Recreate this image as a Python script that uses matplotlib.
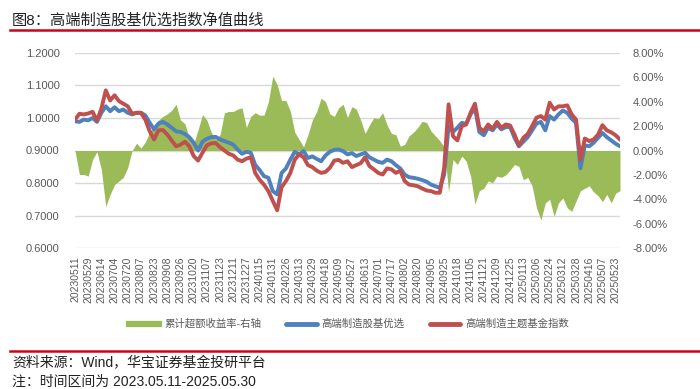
import matplotlib
matplotlib.use('Agg')
import matplotlib.pyplot as plt
from matplotlib.lines import Line2D
from matplotlib.ticker import FuncFormatter

plt.rcParams['font.family'] = ['Liberation Sans', 'Noto Sans CJK SC']

# 每4个交易日取一个点, 2023.05.11-2025.05.30
date_labels = ['20230511', '20230529', '20230614', '20230704', '20230720', '20230807',
               '20230823', '20230908', '20230926', '20231020', '20231107', '20231123',
               '20231211', '20231227', '20240115', '20240131', '20240226', '20240313',
               '20240329', '20240418', '20240509', '20240527', '20240613', '20240701',
               '20240717', '20240802', '20240820', '20240905', '20240925', '20241018',
               '20241105', '20241121', '20241209', '20241225', '20250113', '20250206',
               '20250224', '20250312', '20250328', '20250416', '20250507', '20250523']

# 高端制造股基优选
blue = [0.990, 0.988, 0.995, 0.993, 1.000, 0.988, 1.016, 1.036, 1.021, 1.033,
        1.021, 1.026, 1.016, 1.011, 1.016, 1.016, 1.008, 0.985, 0.965, 0.983,
        0.988, 0.980, 0.970, 0.959, 0.957, 0.951, 0.941, 0.924, 0.900, 0.927,
        0.936, 0.941, 0.942, 0.934, 0.929, 0.924, 0.918, 0.903, 0.890, 0.896,
        0.893, 0.856, 0.840, 0.821, 0.816, 0.775, 0.765, 0.831, 0.845, 0.872,
        0.896, 0.888, 0.898, 0.877, 0.882, 0.874, 0.867, 0.885, 0.896, 0.902,
        0.903, 0.898, 0.888, 0.892, 0.883, 0.888, 0.893, 0.879, 0.872, 0.865,
        0.862, 0.872, 0.867, 0.855, 0.845, 0.826, 0.818, 0.816, 0.813, 0.809,
        0.804, 0.795, 0.790, 0.785, 0.826, 0.975, 0.957, 0.970, 0.985, 0.982,
        1.011, 1.031, 0.957, 0.947, 0.970, 0.962, 0.980, 0.965, 0.972, 0.972,
        0.939, 0.913, 0.927, 0.941, 0.962, 0.983, 0.988, 0.962, 1.006, 0.995,
        1.011, 1.023, 1.016, 0.998, 0.985, 0.845, 0.916, 0.913, 0.924, 0.939,
        0.954, 0.941, 0.931, 0.921, 0.913]

# 高端制造主题基金指数
red = [0.995, 1.013, 1.011, 1.014, 1.019, 0.992, 1.029, 1.085, 1.054, 1.070,
       1.052, 1.044, 1.036, 1.013, 1.016, 1.016, 0.995, 0.959, 0.934, 0.962,
       0.963, 0.949, 0.931, 0.913, 0.918, 0.927, 0.913, 0.883, 0.869, 0.893,
       0.916, 0.922, 0.923, 0.910, 0.900, 0.890, 0.885, 0.872, 0.867, 0.875,
       0.879, 0.831, 0.810, 0.795, 0.775, 0.745, 0.716, 0.787, 0.806, 0.831,
       0.872, 0.888, 0.879, 0.855, 0.849, 0.838, 0.831, 0.834, 0.847, 0.869,
       0.871, 0.862, 0.867, 0.849, 0.855, 0.861, 0.879, 0.852, 0.842, 0.831,
       0.826, 0.845, 0.842, 0.831, 0.838, 0.806, 0.795, 0.793, 0.790, 0.783,
       0.777, 0.775, 0.770, 0.770, 0.847, 1.042, 0.944, 0.931, 0.975, 0.980,
       1.016, 1.044, 0.970, 0.959, 0.980, 0.967, 0.988, 0.970, 0.980, 0.977,
       0.949, 0.915, 0.939, 0.951, 0.975, 1.001, 1.006, 0.995, 1.047, 1.026,
       1.036, 1.036, 1.039, 1.011, 0.995, 0.872, 0.937, 0.929, 0.934, 0.949,
       0.978, 0.962, 0.956, 0.947, 0.934]

# 累计超额收益率(%), 右轴
excess = [0.0, -1.97, -1.97, -2.1, -0.74, -0.1, -1.56, -4.6, -3.6, -2.8,
          -2.5, -2.2, -1.4, 0.0, 0.6, 0.2, 0.7, 1.5, 2.1, 2.5,
          2.8, 3.0, 3.3, 3.8, 2.5, 2.2, 1.0, 0.55, 1.7, 2.95,
          2.5, 1.5, 0.9, 1.3, 3.1, 3.2, 3.2, 3.4, 3.5, 1.9,
          2.8, 3.1, 2.9, 2.9, 4.0, 6.1, 5.4, 4.1, 4.1, 3.2,
          1.5, 0.9, 0.3, 1.3, 2.5, 3.2, 4.3, 4.0, 3.0, 2.8,
          3.5, 3.8, 2.7, 3.6, 3.4, 2.5, 1.4, 2.1, 2.7, 2.6,
          3.1, 2.1, 1.4, 1.3, 0.35, 0.5, 1.2, 1.5, 1.9, 2.4,
          2.3, 1.6, 1.2, 0.8, 0.3, -3.4, -0.74, -1.15, -0.46, -0.87,
          -2.1, -4.4, -3.3, -3.1, -2.5, -2.65, -2.1, -2.2, -2.0, -1.6,
          -1.15, -1.3, -2.4, -2.2, -2.9, -4.7, -5.7, -4.3, -4.0, -5.4,
          -4.3, -3.9, -4.7, -5.0, -4.15, -3.3, -3.1, -2.9, -3.4, -3.7,
          -4.2, -3.6, -4.3, -3.5, -3.3]

C_GREEN = '#9BBB59'
C_BLUE = '#4F81BD'
C_RED = '#C0504D'
C_TXT = '#595959'
C_RULE = '#D0021B'

fig = plt.figure(figsize=(7, 3.89), dpi=100)
ax = fig.add_axes([75 / 700, 1 - 248 / 389, 545 / 700, 195 / 389])
ax2 = ax.twinx()   # 超额收益面积
ax3 = ax.twinx()   # 净值曲线画在最上层

x = list(range(len(blue)))

ax.set_xlim(0, len(blue) - 1)
ax.set_ylim(0.6, 1.2)
ax.set_yticks([0.6, 0.7, 0.8, 0.9, 1.0, 1.1, 1.2])
ax.yaxis.set_major_formatter(FuncFormatter(lambda v, _: f'{v:.4f}'))
ax.grid(axis='y', color='#D9D9D9', lw=1)
ax.set_axisbelow(True)
ax.set_xticks(list(range(0, len(blue), 3)))
ax.set_xticklabels(date_labels, rotation=90)
ax.tick_params(axis='x', length=0, pad=6, labelsize=7.5, labelcolor=C_TXT)
ax.tick_params(axis='y', length=0, pad=11, labelsize=8, labelcolor=C_TXT)

ax2.fill_between(x, 0, excess, color=C_GREEN, lw=0)
ax2.set_ylim(-8, 8)
ax2.set_yticks(list(range(-8, 9, 2)))
ax2.yaxis.set_major_formatter(FuncFormatter(lambda v, _: f'{v:.2f}%'))
ax2.tick_params(axis='y', length=0, pad=9, labelsize=8, labelcolor=C_TXT)

ax3.plot(x, blue, color=C_BLUE, lw=2.8, solid_joinstyle='round')
ax3.plot(x, red, color=C_RED, lw=2.8, solid_joinstyle='round')
ax3.set_ylim(0.6, 1.2)
ax3.set_yticks([])

for a in (ax, ax2, ax3):
    for s in a.spines.values():
        s.set_visible(False)

handles = [Line2D([0], [0], color=C_GREEN, lw=4.5),
           Line2D([0], [0], color=C_BLUE, lw=3.5, solid_capstyle='round'),
           Line2D([0], [0], color=C_RED, lw=3.5, solid_capstyle='round')]
labels = ['累计超额收益率-右轴', '高端制造股基优选', '高端制造主题基金指数']
fig.legend(handles, labels, loc='center', bbox_to_anchor=(349 / 700, 1 - 324 / 389),
           ncol=3, frameon=False, fontsize=7.5, handlelength=2.9, handletextpad=0.5,
           columnspacing=2.4, labelcolor=C_TXT)

fig.text(12 / 700, 1 - 20 / 389, '图8：高端制造股基优选指数净值曲线',
         fontsize=11, va='center', color='#222222')
fig.add_artist(Line2D([10 / 700, 1], [1 - 30 / 389] * 2, color=C_RULE, lw=1.8,
                      transform=fig.transFigure))
fig.add_artist(Line2D([10 / 700, 1], [1 - 351 / 389] * 2, color=C_RULE, lw=1.8,
                      transform=fig.transFigure))
fig.text(12 / 700, 1 - 363 / 389, '资料来源：Wind，华宝证券基金投研平台',
         fontsize=10, va='center', color='#222222')
fig.text(12 / 700, 1 - 382 / 389, '注：时间区间为 2023.05.11-2025.05.30',
         fontsize=10, va='center', color='#222222')

fig.savefig('out.png', dpi=100)
